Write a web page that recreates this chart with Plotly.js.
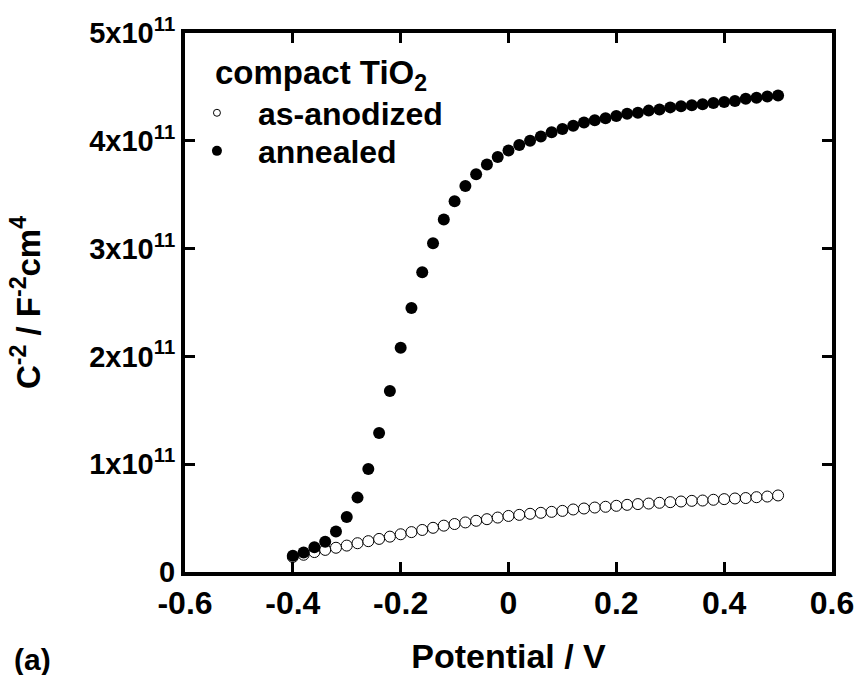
<!DOCTYPE html>
<html>
<head>
<meta charset="utf-8">
<script src="https://cdn.plot.ly/plotly-3.0.1.min.js"></script>
<style>html,body{margin:0;padding:0;background:#fff;}#chart{width:856px;height:675px;}</style>
</head>
<body>
<div id="chart"></div>
<script>
// Potential (V)
var potential = [-0.40,-0.38,-0.36,-0.34,-0.32,-0.30,-0.28,-0.26,-0.24,-0.22,
  -0.20,-0.18,-0.16,-0.14,-0.12,-0.10,-0.08,-0.06,-0.04,-0.02,
  0.00,0.02,0.04,0.06,0.08,0.10,0.12,0.14,0.16,0.18,
  0.20,0.22,0.24,0.26,0.28,0.30,0.32,0.34,0.36,0.38,
  0.40,0.42,0.44,0.46,0.48,0.50];
// C^-2 values in units of 1e11 F^-2 cm^4
var asAnodized = [0.14,0.16,0.185,0.205,0.225,0.245,0.267,0.286,0.307,0.328,
  0.35,0.37,0.39,0.41,0.43,0.445,0.46,0.475,0.49,0.505,
  0.52,0.530,0.540,0.549,0.558,0.567,0.580,0.589,0.598,0.605,
  0.614,0.623,0.630,0.635,0.642,0.648,0.654,0.660,0.663,0.670,
  0.676,0.682,0.686,0.694,0.700,0.710];
var annealed = [0.15,0.18,0.23,0.28,0.375,0.51,0.69,0.955,1.29,1.68,
  2.08,2.45,2.78,3.05,3.27,3.44,3.58,3.69,3.78,3.85,
  3.91,3.96,4.00,4.04,4.08,4.11,4.14,4.17,4.19,4.21,
  4.23,4.25,4.26,4.28,4.29,4.31,4.32,4.33,4.34,4.35,
  4.36,4.37,4.39,4.40,4.41,4.42];
var seriesNames = ['as-anodized','annealed'];
var legendTitle = 'compact TiO<sub>2</sub>';
var xTickVals = [-0.6,-0.4,-0.2,0,0.2,0.4,0.6];
var xTickText = ['-0.6','-0.4','-0.2','0','0.2','0.4','0.6'];
var yTickVals = [0,1,2,3,4,5];
var yTickText = ['0','1x10<sup>11</sup>','2x10<sup>11</sup>','3x10<sup>11</sup>','4x10<sup>11</sup>','5x10<sup>11</sup>'];

var FONT = 'Liberation Sans, Arial, Helvetica, sans-serif';

var traces = [
  {x: potential, y: asAnodized, type: 'scatter', mode: 'markers', showlegend: false,
   marker: {symbol: 'circle', size: 11, color: '#ffffff', line: {color: '#000', width: 1}}},
  {x: potential, y: annealed, type: 'scatter', mode: 'markers', showlegend: false,
   marker: {symbol: 'circle', size: 12, color: '#000', line: {width: 0}}},
  // legend-only entries (smaller symbols like the reference legend)
  {x: [null], y: [null], name: seriesNames[0], type: 'scatter', mode: 'markers', legend: 'legend',
   marker: {symbol: 'circle', size: 7, color: '#ffffff', line: {color: '#000', width: 1}}},
  {x: [null], y: [null], name: seriesNames[1], type: 'scatter', mode: 'markers', legend: 'legend2',
   marker: {symbol: 'circle', size: 10, color: '#000', line: {width: 0}}}
];

var axisCommon = {
  showline: true, linecolor: '#000', linewidth: 4, mirror: 'ticks',
  ticks: 'inside', ticklen: 10, tickwidth: 3, tickcolor: '#000',
  showgrid: false, zeroline: false, automargin: false
};

var legendCommon = {x: -0.014, xanchor: 'left', yanchor: 'middle', bgcolor: 'rgba(0,0,0,0)',
  borderwidth: 0, itemwidth: 72, font: {size: 32, family: FONT, weight: 'bold'}};

var layout = {
  width: 856, height: 675,
  margin: {l: 185, r: 24, t: 33, b: 103},
  paper_bgcolor: '#fff', plot_bgcolor: '#fff',
  font: {family: FONT, color: '#000', weight: 'bold'},
  showlegend: true,
  legend: Object.assign({}, legendCommon, {y: 0.8516}),
  legend2: Object.assign({}, legendCommon, {y: 0.781}),
  xaxis: Object.assign({}, axisCommon, {
    range: [-0.6, 0.6], tickmode: 'array', tickvals: xTickVals, ticktext: xTickText,
    tickfont: {size: 32, family: FONT, weight: 'bold'},
    title: {text: 'Potential / V', font: {size: 34, family: FONT, weight: 'bold'}, standoff: 28}
  }),
  yaxis: Object.assign({}, axisCommon, {
    range: [0, 5], tickmode: 'array', tickvals: yTickVals, ticktext: yTickText,
    tickfont: {size: 29, family: FONT, weight: 'bold'},
    title: {text: 'C<sup>-2</sup> / F<sup>-2</sup>cm<sup>4</sup>', font: {size: 33, family: FONT, weight: 'bold'}, standoff: 40}
  }),
  annotations: [
    {text: legendTitle, xref: 'paper', yref: 'paper', x: 0.0433, y: 0.922, xanchor: 'left', yanchor: 'middle',
     showarrow: false, font: {size: 33, family: FONT, weight: 'bold'}},
    {text: '(a)', xref: 'paper', yref: 'paper', x: -0.235, y: -0.163, xanchor: 'center', yanchor: 'middle',
     showarrow: false, font: {size: 30, family: FONT, weight: 'bold'}}
  ]
};

Plotly.newPlot('chart', traces, layout, {staticPlot: true, displayModeBar: false});
</script>
</body>
</html>
